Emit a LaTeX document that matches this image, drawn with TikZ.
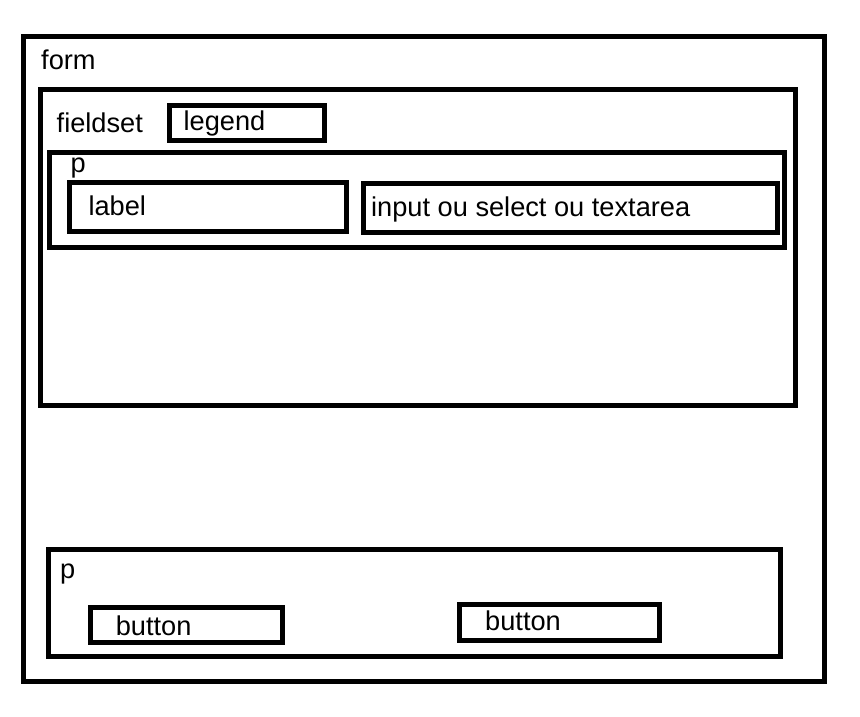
\documentclass[tikz,border=0pt]{standalone}
\usepackage{fontspec}
\setmainfont{Liberation Sans}
\begin{document}
\begin{tikzpicture}[x=1pt,y=-1pt,
  box/.style={draw=black,line width=5pt,inner sep=0pt,outer sep=0pt,anchor=north west},
  lbl/.style={anchor=base west,inner sep=0pt,font=\fontsize{27.2}{30}\selectfont}]
\useasboundingbox (0,0) rectangle (860,717);
% boxes
\node[box,minimum width=801pt,minimum height=645pt] (form) at (23.5,36.5) {};
\node[box,minimum width=755pt,minimum height=316pt] (fieldset) at (40.5,89.5) {};
\node[box,minimum width=155pt,minimum height=35pt] (legend) at (169.5,105.5) {};
\node[box,minimum width=735pt,minimum height=95pt] (p1) at (49.5,152.5) {};
\node[box,minimum width=277pt,minimum height=49pt] (label) at (69.5,182.5) {};
\node[box,minimum width=414pt,minimum height=49pt] (input) at (363.5,183.5) {};
\node[box,minimum width=732pt,minimum height=107pt] (p2) at (48.5,549.5) {};
\node[box,minimum width=192pt,minimum height=35pt] (button1) at (90.5,607.5) {};
\node[box,minimum width=200pt,minimum height=36pt] (button2) at (459.5,604.5) {};
% texts
\node[lbl] (tform) at (41,69.3) {form};
\node[lbl] (tfieldset) at (56.5,132) {fieldset};
\node[lbl] (tlegend) at (183.5,131) {legend};
\node[lbl] (tp1) at (70.5,172.7) {p};
\node[lbl] (tlabel) at (88.3,215.3) {label};
\node[lbl] (tinput) at (371,216.7) {input ou select ou textarea};
\node[lbl] (tp2) at (60,578.3) {p};
\node[lbl] (tbutton1) at (115.6,635.3) {button};
\node[lbl] (tbutton2) at (485,630.3) {button};
\end{tikzpicture}
\end{document}
